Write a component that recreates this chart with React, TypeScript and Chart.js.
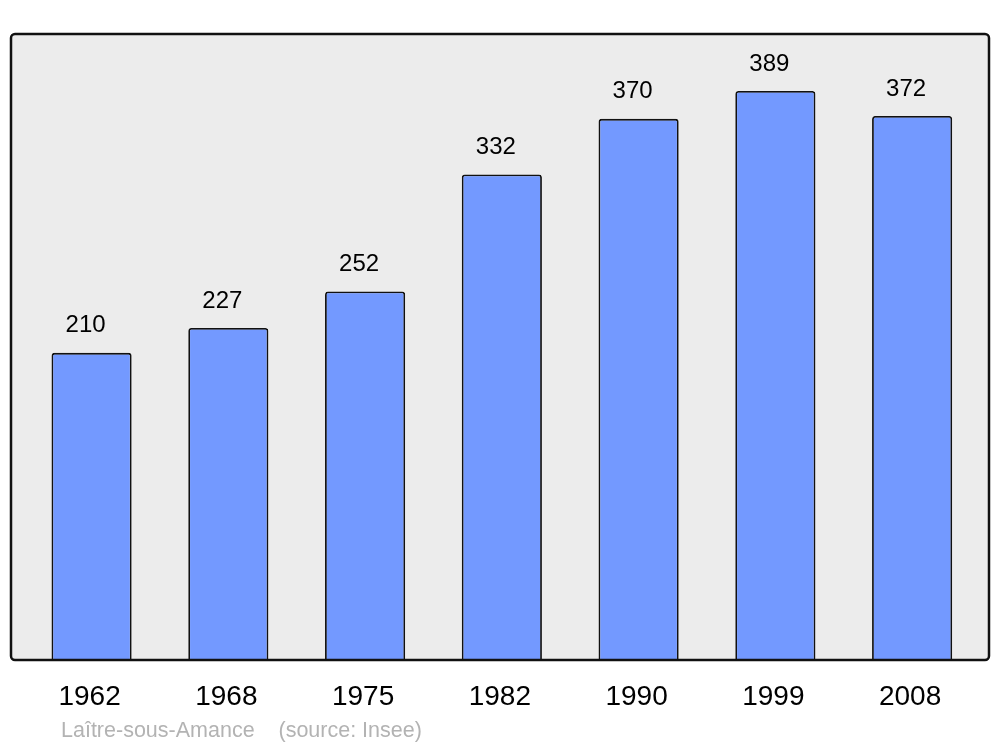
import React, { useEffect, useRef } from "react";
import { Chart, registerables } from "chart.js";

Chart.register(...registerables);

const years = ["1962", "1968", "1975", "1982", "1990", "1999", "2008"];
const population = [210, 227, 252, 332, 370, 389, 372];
const sourceText = "Laître-sous-Amance    (source: Insee)";

const FONT = "'Liberation Sans', Arial, sans-serif";

const boxPlugin = {
  id: "boxPlugin",
  beforeDatasetsDraw(chart: any) {
    const ctx = chart.ctx;
    ctx.save();
    ctx.fillStyle = "#ececec";
    ctx.beginPath();
    (ctx as any).roundRect(11, 34, 978, 626, 4);
    ctx.fill();
    ctx.restore();
  },
  afterDatasetsDraw(chart: any) {
    const ctx = chart.ctx;
    ctx.save();
    ctx.strokeStyle = "#111111";
    ctx.lineWidth = 2.5;
    ctx.beginPath();
    (ctx as any).roundRect(11, 34, 978, 626, 4);
    ctx.stroke();
    // value labels
    const meta = chart.getDatasetMeta(0);
    ctx.fillStyle = "#000";
    ctx.font = `24px ${FONT}`;
    ctx.textAlign = "center";
    ctx.textBaseline = "middle";
    meta.data.forEach((bar: any, i: number) => {
      ctx.fillText(String(population[i]), bar.x - 6, bar.y - 27);
    });
    // source
    ctx.fillStyle = "#b3b3b3";
    ctx.font = `21.5px ${FONT}`;
    ctx.textAlign = "left";
    ctx.fillText(sourceText, 61, 731);
    ctx.restore();
  },
};

export default function App() {
  const ref = useRef<HTMLCanvasElement>(null);
  useEffect(() => {
    if (!ref.current) return;
    const chart = new Chart(ref.current, {
      type: "bar",
      data: {
        labels: years,
        datasets: [
          {
            data: population,
            backgroundColor: "#7399ff",
            borderColor: "#111111",
            borderWidth: 1.8,
            borderRadius: { topLeft: 3, topRight: 3, bottomLeft: 0, bottomRight: 0 },
            borderSkipped: "bottom",
            barPercentage: 0.586,
            categoryPercentage: 1,
          },
        ],
      },
      options: {
        animation: false,
        responsive: false,
        maintainAspectRatio: false,
        layout: { padding: { left: 23.2, right: 19.5, top: 34, bottom: 0 } },
        plugins: { legend: { display: false }, tooltip: { enabled: false } },
        scales: {
          y: { display: false, min: 0, max: 428 },
          x: {
            grid: { display: false, drawTicks: false },
            border: { display: false },
            ticks: { color: "#000", font: { family: FONT, size: 28 }, padding: 20, maxRotation: 0, labelOffset: -2 },
            afterFit: (scale: any) => {
              scale.height = 87;
            },
          },
        },
      },
      plugins: [boxPlugin],
    });
    return () => chart.destroy();
  }, []);
  return (
    <div style={{ position: "absolute", left: 0, top: 0, width: 1000, height: 747, background: "#fff" }}>
      <canvas ref={ref} width={1000} height={747} style={{ display: "block" }} />
    </div>
  );
}
